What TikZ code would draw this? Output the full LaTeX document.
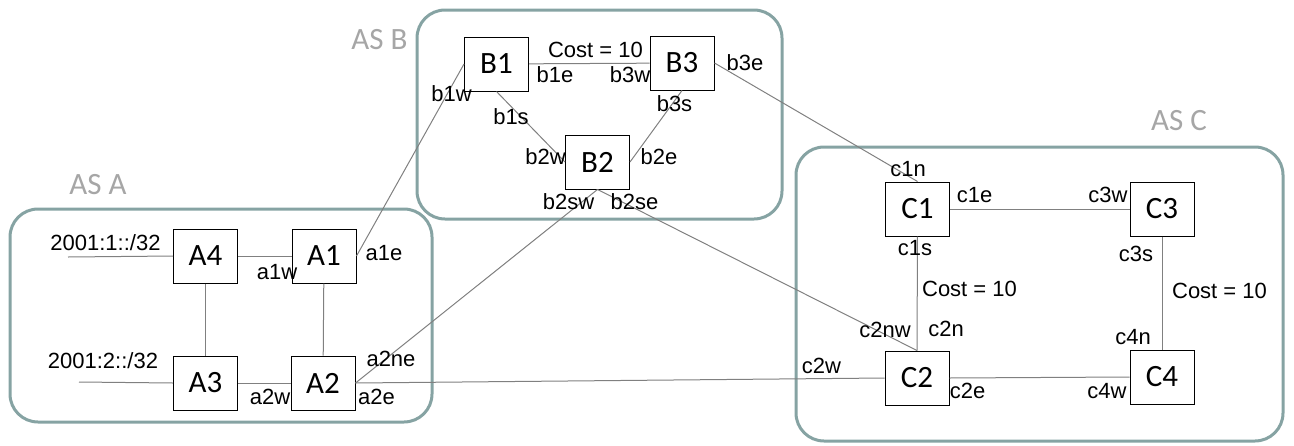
\documentclass[tikz,border=0pt]{standalone}
\usepackage{fontspec}
\setmainfont{Liberation Sans}
\newfontfamily\calib{Carlito}
\definecolor{asframe}{HTML}{86A3A3}
\definecolor{asgray}{HTML}{A6A6A6}
\definecolor{linkgray}{HTML}{808080}
\begin{document}
\begin{tikzpicture}[x=1pt,y=-1pt,
  router/.style={draw=black,line width=1pt,minimum width=64pt,minimum height=54pt,inner sep=0pt,font=\calib\fontsize{31}{31}\selectfont},
  asbox/.style={draw=asframe,line width=3pt,rounded corners=28pt},
  aslabel/.style={text=asgray,inner sep=0pt,font=\calib\fontsize{31}{31}\selectfont},
  lbl/.style={inner sep=0pt,font=\fontsize{22}{22}\selectfont},
  link/.style={draw=linkgray,line width=1pt}]
\useasboundingbox (0,0) rectangle (1294,445);
% AS frames
\draw[asbox] (10,209) rectangle (432,422);
\draw[asbox] (417,10) rectangle (782,219);
\draw[asbox] (796,147) rectangle (1283,441);
\node[aslabel] (asa) at (98,185) {AS A};
\node[aslabel] (asb) at (379.5,40) {AS B};
\node[aslabel] (asc) at (1179,121) {AS C};
% routers
\node[router] (A4) at (205.5,256) {A4};
\node[router] (A1) at (324,256) {A1};
\node[router] (A3) at (205.5,383) {A3};
\node[router] (A2) at (323,383) {A2};
\node[router] (B1) at (496.5,64) {B1};
\node[router] (B3) at (682,63) {B3};
\node[router] (B2) at (597.5,162) {B2};
\node[router] (C1) at (917.5,209) {C1};
\node[router] (C3) at (1162,209) {C3};
\node[router] (C2) at (917,378) {C2};
\node[router] (C4) at (1162,377) {C4};
% prefix stubs
\coordinate (p1) at (68,257);
\coordinate (p2) at (79,382);
\draw[link] (p1) -- (A4.west);
\draw[link] (p2) -- (A3.west);
% links
\draw[link] (A4) -- (A1);
\draw[link] (A4) -- (A3);
\draw[link] (A1) -- (A2);
\draw[link] (A3) -- (A2);
\draw[link] (A1.east) -- (B1.west);
\draw[link] (A2.east) -- (B2.south);
\draw[link] (A2.east) -- (C2.west);
\draw[link] (B1) -- (B3);
\draw[link] (B1.south) -- (B2.west);
\draw[link] (B3.south) -- (B2.east);
\draw[link] (B3.east) -- (C1.north);
\draw[link] (B2.south) -- (C2.north);
\draw[link] (C1) -- (C3);
\draw[link] (C1) -- (C2);
\draw[link] (C3) -- (C4);
\draw[link] (C2.east) -- (C4.west);
% labels
\node[lbl] (l1) at (105.5,243) {2001:1::/32};
\node[lbl] (l2) at (103,361) {2001:2::/32};
\node[lbl] (a1w) at (277,272) {a1w};
\node[lbl] (a1e) at (384,253) {a1e};
\node[lbl] (a2ne) at (391,359) {a2ne};
\node[lbl] (a2w) at (270,397) {a2w};
\node[lbl] (a2e) at (376.5,397) {a2e};
\node[lbl] (costb) at (595.5,50) {Cost = 10};
\node[lbl] (b1w) at (451.5,94) {b1w};
\node[lbl] (b1e) at (555,75) {b1e};
\node[lbl] (b3w) at (630,75) {b3w};
\node[lbl] (b3e) at (745,63) {b3e};
\node[lbl] (b3s) at (674.5,104) {b3s};
\node[lbl] (b1s) at (511,117) {b1s};
\node[lbl] (b2w) at (545.5,157) {b2w};
\node[lbl] (b2e) at (659,157) {b2e};
\node[lbl] (b2sw) at (568.5,202) {b2sw};
\node[lbl] (b2se) at (634.5,202) {b2se};
\node[lbl] (c1n) at (908,169) {c1n};
\node[lbl] (c1e) at (974.5,195) {c1e};
\node[lbl] (c3w) at (1108,195) {c3w};
\node[lbl] (c1s) at (915,248) {c1s};
\node[lbl] (c3s) at (1136,254) {c3s};
\node[lbl] (costc1) at (969.5,289) {Cost = 10};
\node[lbl] (costc2) at (1219.5,291) {Cost = 10};
\node[lbl] (c2nw) at (885,330) {c2nw};
\node[lbl] (c2n) at (946,329) {c2n};
\node[lbl] (c4n) at (1133,337) {c4n};
\node[lbl] (c2w) at (821.5,366) {c2w};
\node[lbl] (c2e) at (967.5,391) {c2e};
\node[lbl] (c4w) at (1107,391) {c4w};
\end{tikzpicture}
\end{document}
